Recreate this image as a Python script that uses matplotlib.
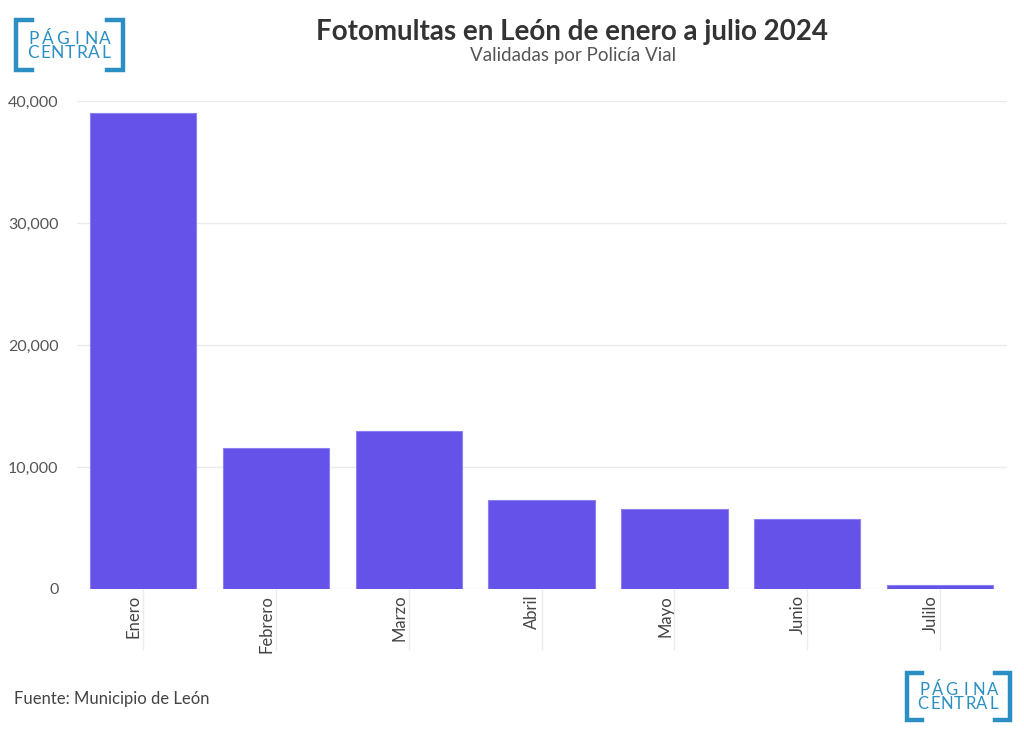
import matplotlib
matplotlib.use("Agg")
import matplotlib.pyplot as plt
from matplotlib.lines import Line2D

meses = ["Enero", "Febrero", "Marzo", "Abril", "Mayo", "Junio", "Julilo"]
fotomultas = [39000, 11560, 12950, 7300, 6560, 5740, 330]
y_ticks = [0, 10000, 20000, 30000, 40000]

W, H = 1024, 740
COLOR_BARRA = "#6452e9"
COLOR_LOGO = "#2b8fc3"
FUENTE = ["Lato", "DejaVu Sans"]

plt.rcParams["font.family"] = FUENTE


def px(x, y):
    """Pixel (desde arriba-izquierda) a coordenadas de figura."""
    return x / W, 1 - y / H


def dibujar_logo(fig, x0, y0, ancho, alto, tam):
    """Logo de Pagina Central con corchetes."""
    lw = 3.2
    brazo = ancho * 0.15
    ys = [y0, y0, y0 + alto, y0 + alto]
    x1 = x0 + ancho
    for xs in ([x0 + brazo, x0, x0, x0 + brazo],
               [x1 - brazo, x1, x1, x1 - brazo]):
        fig.add_artist(Line2D([px(a, b)[0] for a, b in zip(xs, ys)],
                              [px(a, b)[1] for a, b in zip(xs, ys)],
                              color=COLOR_LOGO, lw=lw,
                              solid_joinstyle="miter"))
    # texto, letra por letra para espaciado parejo
    izq = x0 + ancho * 0.1
    der = x0 + ancho * 0.9
    for palabra, fila in (("PÁGINA", 0.37), ("CENTRAL", 0.67)):
        paso = (der - izq) / len(palabra)
        for i, letra in enumerate(palabra):
            fx, fy = px(izq + paso * (i + 0.5), y0 + alto * fila)
            fig.text(fx, fy, letra, color=COLOR_LOGO, fontsize=tam,
                     ha="center", va="center")


fig = plt.figure(figsize=(W / 100, H / 100), dpi=100)
fig.patch.set_facecolor("white")

izq, der = 76.5 / W, 1006.5 / W
abajo, arriba = 1 - 589 / H, 1 - 101 / H
ax = fig.add_axes([izq, abajo, der - izq, arriba - abajo])

posiciones = list(range(len(meses)))
ax.bar(posiciones, fotomultas, width=0.8, color=COLOR_BARRA,
       edgecolor="#8a80f0", linewidth=0.8, zorder=3)

ax.set_xlim(-0.5, len(meses) - 0.5)
ax.set_ylim(0, 40000)
ax.set_yticks(y_ticks)
ax.set_yticklabels([f"{v:,}" for v in y_ticks], fontsize=11.5, color="#555555")
ax.yaxis.grid(True, color="#ebebeb", linewidth=1, zorder=0)
ax.tick_params(axis="y", length=0, pad=13)

ax.set_xticks(posiciones)
ax.set_xticklabels([])
for p, mes in zip(posiciones, meses):
    ax.text(p - 0.07, -0.012, mes, transform=ax.get_xaxis_transform(),
            rotation=90, ha="center", va="top", fontsize=12, color="#444444")
ax.tick_params(axis="x", length=0)
ax.vlines(posiciones, -0.125, 0, transform=ax.get_xaxis_transform(),
          color="#ececec", linewidth=1, clip_on=False, zorder=0)

for s in ax.spines.values():
    s.set_visible(False)

fig.text(572 / W, 1 - 32 / H, "Fotomultas en León de enero a julio 2024",
         ha="center", va="center", fontsize=20, fontweight="bold",
         color="#333333")
fig.text(573 / W, 1 - 55 / H, "Validadas por Policía Vial",
         ha="center", va="center", fontsize=13.5, color="#555555")
fig.text(14 / W, 1 - 699 / H, "Fuente: Municipio de León",
         ha="left", va="center", fontsize=12, color="#444444")

dibujar_logo(fig, 16, 20, 107, 50, 12.5)
dibujar_logo(fig, 907, 673, 103, 47, 12)

fig.savefig("out.png", dpi=100, facecolor="white")
